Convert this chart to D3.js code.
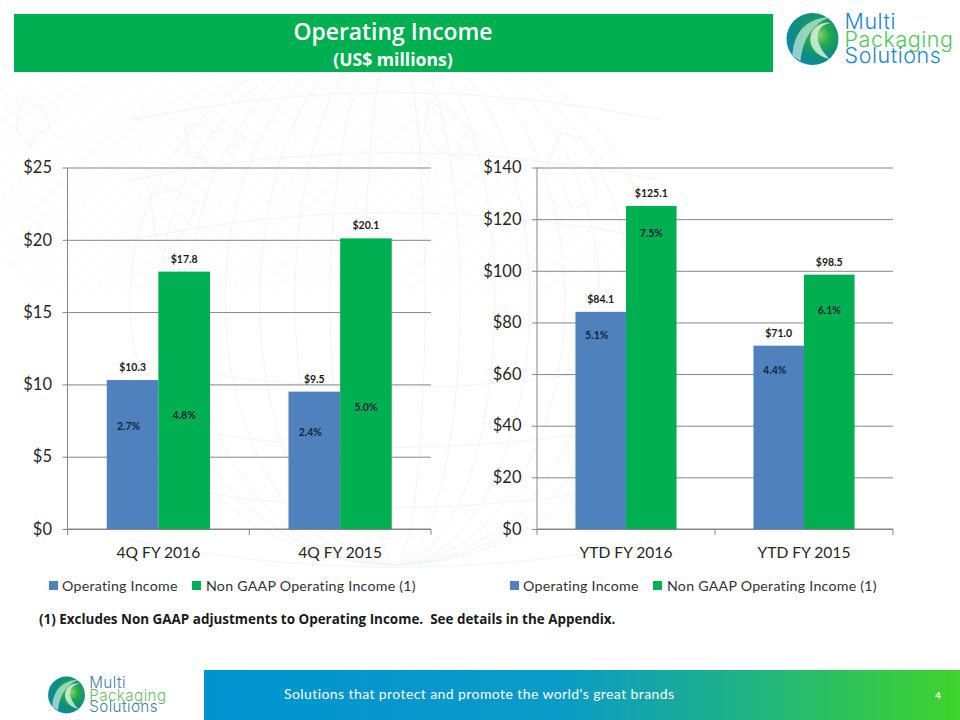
<!DOCTYPE html>
<html><head><meta charset="utf-8">
<script src="https://cdn.jsdelivr.net/npm/d3@7"></script>
<style>html,body{margin:0;padding:0;background:#fff}svg{display:block}text{font-family:Lato,sans-serif}</style>
</head><body><svg id="c" width="960" height="720"></svg>
<script>
const seriesNames = ["Operating Income", "Non GAAP Operating Income (1)"];
const seriesColors = ["#4f81bd", "#00b050"];
const quarterCategories = ["4Q FY 2016", "4Q FY 2015"];
const quarterOperating = [10.3, 9.5];
const quarterNonGaap = [17.8, 20.1];
const quarterOperatingPct = ["2.7%", "2.4%"];
const quarterNonGaapPct = ["4.8%", "5.0%"];
const quarterTicks = [0, 5, 10, 15, 20, 25];
const ytdCategories = ["YTD FY 2016", "YTD FY 2015"];
const ytdOperating = [84.1, 71.0];
const ytdNonGaap = [125.1, 98.5];
const ytdOperatingPct = ["5.1%", "4.4%"];
const ytdNonGaapPct = ["7.5%", "6.1%"];
const ytdTicks = [0, 20, 40, 60, 80, 100, 120, 140];

const svg = d3.select("#c");
const defs = svg.append("defs");
const fb = defs.append("linearGradient").attr("id","foot").attr("gradientUnits","userSpaceOnUse").attr("x1",204).attr("x2",960).attr("y1",0).attr("y2",0);
[["0%","#0093d0"],["47%","#0a9bc8"],["72%","#1fb384"],["100%","#40d42c"]].forEach(s=>fb.append("stop").attr("offset",s[0]).attr("stop-color",s[1]));
const orb = defs.append("radialGradient").attr("id","orb").attr("cx","0.62").attr("cy","0.42").attr("r","0.7");
[["0%","#8fd66a"],["30%","#22a84f"],["60%","#0f8f78"],["100%","#0a87b8"]].forEach(s=>orb.append("stop").attr("offset",s[0]).attr("stop-color",s[1]));
const clip = defs.append("clipPath").attr("id","wmclip");
clip.append("rect").attr("x",0).attr("y",78).attr("width",670).attr("height",560);

// faint world-map watermark (globe meridians, hatch and loose coast outlines)
const wm = svg.append("g").attr("clip-path","url(#wmclip)").attr("fill","none").attr("stroke","#f3f4f4").attr("stroke-width",1);
[30,65,100,135,170,205,235,265].forEach(r=>{
  wm.append("ellipse").attr("cx",395).attr("cy",300).attr("rx",r).attr("ry",265);
});
[60,120,180,240].forEach(k=>{
  wm.append("path").attr("d",`M${395-265},${300-k} Q395,${300-k-55} ${395+265},${300-k}`);
  wm.append("path").attr("d",`M${395-265},${300+k} Q395,${300+k+55} ${395+265},${300+k}`);
});
d3.range(-200,420,17).forEach(d=>{
  wm.append("path").attr("d",`M${d},78 Q${d+90},150 ${d+240},290`).attr("stroke","#f6f7f7");
});
const coast = d3.line();
[[[185,128],[205,122],[212,134],[232,126],[246,140],[228,150],[236,166],[214,172],[204,158],[190,156]],
 [[150,195],[176,190],[196,204],[188,226],[172,244],[166,262],[156,238]],
 [[560,132],[584,140],[602,158],[590,172],[598,196],[572,210],[562,184],[546,170]],
 [[430,102],[452,112],[470,130],[456,142],[462,158],[438,150],[424,128]],
 [[22,100],[42,108],[50,128],[36,134],[30,148],[16,128]]].forEach(p=>wm.append("path").attr("d",coast(p)+"Z"));

// header
svg.append("rect").attr("x",14).attr("y",14).attr("width",759).attr("height",58).attr("fill","#00b050");
svg.append("text").attr("x",393).attr("y",40).attr("text-anchor","middle").attr("fill","#fff").attr("font-size",22.9).attr("font-weight",600).style("font-family",'"Open Sans",sans-serif').text("Operating Income");
svg.append("text").attr("x",393).attr("y",66).attr("text-anchor","middle").attr("fill","#fff").attr("font-size",17.6).attr("font-weight",700).style("font-family",'"Open Sans",sans-serif').text("(US$ millions)");

function logo(x,y,s,c1,c2){
  const g = svg.append("g").attr("transform",`translate(${x},${y}) scale(${s})`);
  g.append("circle").attr("cx",0).attr("cy",0).attr("r",26).attr("fill","url(#orb)");
  g.append("path").attr("d","M-20,17 C-19,-8 -5,-21 18,-22 C4,-17 -9,-5 -12,22 Z").attr("fill","#bfe6dc").attr("opacity",.75);
  g.append("path").attr("d","M17,20 C1,16 -6,4 0,-8 C4,-15 12,-17 18,-16 C7,-14 3,-6 6,3 C8,10 13,16 17,20 Z").attr("fill","#d5efe2").attr("opacity",.85);
  const t=[["Multi",-10.5,c1],["Packaging",8,c2],["Solutions",24,c1]];
  t.forEach(d=>g.append("text").attr("x",32).attr("y",d[1]).attr("font-size",21.5).attr("letter-spacing",0.55).attr("fill",d[2]).style("font-family","Inter, sans-serif").attr("font-weight",300).text(d[0]));
}
logo(812.5,39,1,"#1e88c8","#4fc75a");
logo(66.5,695,.71,"#3f7f9f","#6dbb62");

function chart(o){
  const g = svg.append("g");
  const y = d3.scaleLinear().domain([0,o.ticks[o.ticks.length-1]]).range([529,167.5]);
  const x0 = d3.scaleBand().domain(o.categories).range([o.left,o.right]).paddingInner(0.432).paddingOuter(0.216);
  const x1 = d3.scaleBand().domain([0,1]).range([0,x0.bandwidth()]);
  const axisC = "#868686";
  const grid = d3.axisLeft(y).tickValues(o.ticks).tickSize(5).tickFormat(d=>"$"+d);
  const ya = g.append("g").attr("transform",`translate(${o.left},0)`).call(grid);
  ya.select(".domain").attr("stroke",axisC).attr("d",`M0,${y(o.ticks[o.ticks.length-1])}V${y(0)}`);
  ya.selectAll(".tick line").attr("stroke",axisC);
  ya.selectAll(".tick").append("line").attr("x1",0).attr("x2",o.right-o.left).attr("stroke",axisC);
  ya.selectAll("text").attr("font-size",16.5).attr("fill","#262626").attr("x",-15.5);

  const xa = g.append("g").attr("transform",`translate(0,${y(0)})`).call(d3.axisBottom(x0).tickSize(0).tickPadding(18));
  xa.select(".domain").attr("stroke",axisC).attr("d",`M${o.left},0H${o.right}`);
  xa.selectAll("text").attr("font-size",15.6).attr("fill","#262626");
  const step = (o.right-o.left)/o.categories.length;
  d3.range(o.categories.length+1).forEach(i=>xa.append("line").attr("x1",o.left+i*step).attr("x2",o.left+i*step).attr("y1",0).attr("y2",6).attr("stroke",axisC));

  [o.a,o.b].forEach((vals,si)=>{
    const pct = si? o.bPct:o.aPct;
    const drop = o.drops[si];
    const nudge = si? 0:-4;
    const s = g.append("g");
    s.selectAll("rect").data(vals).join("rect")
      .attr("x",(d,i)=>x0(o.categories[i])+x1(si)).attr("y",d=>y(d))
      .attr("width",x1.bandwidth()).attr("height",d=>y(0)-y(d)).attr("fill",seriesColors[si]);
    s.selectAll("text.v").data(vals).join("text").attr("class","v")
      .attr("x",(d,i)=>x0(o.categories[i])+x1(si)+x1.bandwidth()/2).attr("y",d=>y(d)-9)
      .attr("text-anchor","middle").attr("font-size",10.5).attr("font-weight",700).attr("fill","#1a1a1a")
      .text(d=>"$"+d.toFixed(1));
    s.selectAll("text.p").data(vals).join("text").attr("class","p")
      .attr("x",(d,i)=>x0(o.categories[i])+x1(si)+x1.bandwidth()/2+nudge).attr("y",(d,i)=>y(d)+drop[i]+4)
      .attr("text-anchor","middle").attr("font-size",10.5).attr("font-weight",700).attr("fill","#12263a")
      .text((d,i)=>pct[i]);
  });

  // legend
  const lg = g.append("g").attr("transform",`translate(${o.legendX},586)`);
  lg.append("rect").attr("x",0).attr("y",-5).attr("width",9).attr("height",9).attr("fill",seriesColors[0]);
  lg.append("text").attr("x",13).attr("y",5).attr("font-size",14.2).attr("letter-spacing",0.25).attr("fill","#333").text(seriesNames[0]);
  lg.append("rect").attr("x",143).attr("y",-5).attr("width",9).attr("height",9).attr("fill",seriesColors[1]);
  lg.append("text").attr("x",157).attr("y",5).attr("font-size",14.2).attr("letter-spacing",0.25).attr("fill","#333").text(seriesNames[1]);
}
chart({categories:quarterCategories,a:quarterOperating,b:quarterNonGaap,aPct:quarterOperatingPct,bPct:quarterNonGaapPct,ticks:quarterTicks,left:67.5,right:431,legendX:49,drops:[[46,40],[143,169]]});
chart({categories:ytdCategories,a:ytdOperating,b:ytdNonGaap,aPct:ytdOperatingPct,bPct:ytdNonGaapPct,ticks:ytdTicks,left:537,right:893,legendX:510,drops:[[23,24],[27,35]]});

svg.append("text").attr("x",39).attr("y",624).attr("font-size",13.45).attr("font-weight",700).attr("fill","#1a1a1a").attr("xml:space","preserve").style("font-family",'"Open Sans",sans-serif').text("(1) Excludes Non GAAP adjustments to Operating Income.  See details in the Appendix.");

// footer
svg.append("rect").attr("x",204).attr("y",670).attr("width",756).attr("height",50).attr("fill","url(#foot)");
svg.append("text").attr("x",284).attr("y",699).attr("font-size",14).attr("fill","#fff").attr("letter-spacing",0.41).text("Solutions that protect and promote the world\u2018s great brands");
svg.append("text").attr("x",938).attr("y",699).attr("text-anchor","middle").attr("font-size",10).attr("font-weight",700).attr("fill","#fff").text("4");
</script></body></html>
